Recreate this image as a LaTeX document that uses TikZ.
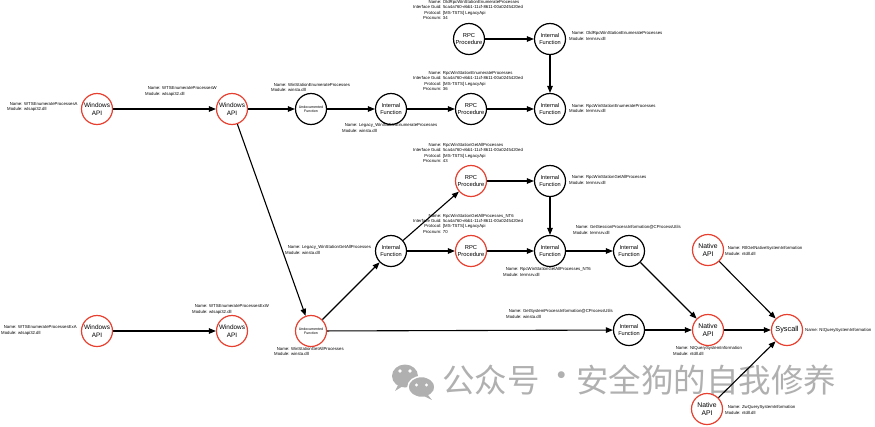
\documentclass[tikz,border=0pt]{standalone}
\usepackage{fontspec}
\setmainfont{Liberation Sans}
\newfontfamily\cjk{Noto Sans CJK SC}
\usetikzlibrary{arrows.meta}
\definecolor{apired}{RGB}{232,64,48}
\definecolor{wmgray}{RGB}{176,176,176}
\newcommand{\twolab}[2]{\begin{tabular}{@{}r@{ }l@{}}Name:&#1\\Module:&#2\end{tabular}}
\newcommand{\rpclab}[2]{\begin{tabular}{@{}r@{ }l@{}}Name:&#1\\Interface Guid:&5ca4a760-ebb1-11cf-8611-00a0245420ed\\Protocol:&[MS-TSTS] LegacyApi\\Procnum:&#2\end{tabular}}
\begin{document}
\begin{tikzpicture}[x=1pt,y=-1pt,
  fn/.style={circle,draw,line width=1.2pt,minimum size=31pt,inner sep=0pt,align=center},
  redfn/.style={fn,draw=apired},
  winapi/.style={redfn,font=\fontsize{6.4}{7.4}\selectfont},
  intfn/.style={fn,font=\fontsize{5.6}{6.6}\selectfont},
  rpcblack/.style={fn,font=\fontsize{5.8}{6.8}\selectfont},
  rpcred/.style={redfn,font=\fontsize{5.8}{6.8}\selectfont},
  undoc/.style={fn,font=\fontsize{3.6}{4.4}\selectfont},
  undocred/.style={redfn,font=\fontsize{3.6}{4.4}\selectfont},
  native/.style={redfn,font=\fontsize{6.8}{7.8}\selectfont},
  sysc/.style={redfn,font=\fontsize{7.3}{8.3}\selectfont},
  lbl/.style={anchor=west,inner sep=0pt,font=\fontsize{4.3}{5.3}\selectfont},
  edge/.style={line width=1.1pt,-{Triangle[length=7pt,width=5.5pt]}},
  wm/.style={inner sep=0pt,text=wmgray,font=\cjk\fontsize{32.5}{33}\selectfont},
]
\useasboundingbox (0,0) rectangle (875,426);

% watermark
\fill[wmgray] (405,376) ellipse [x radius=13, y radius=11.5];
\fill[wmgray] (398,385) -- (395,391) -- (403,386) -- cycle;
\filldraw[fill=wmgray,draw=white,line width=1.5pt] (421.5,387) ellipse [x radius=13.5, y radius=10.5];
\fill[wmgray] (428,395) -- (432,400) -- (424,396) -- cycle;
\fill[white] (400,371) circle (1.9) (410,371) circle (1.9);
\fill[white] (416.5,385) circle (1.6) (426.5,385) circle (1.6);
\node[wm,anchor=west] (wm1) at (442,380) {公众号};
\node[wm] (wmdot) at (562,380) {·};
\node[wm,anchor=west] (wm2) at (576,380) {安全狗的自我修养};

% nodes
\node[winapi] (wA) at (97,109) {Windows\\API};
\node[winapi] (wW) at (232,109) {Windows\\API};
\node[undoc] (uT) at (311,109) {Undocumented\\Function};
\node[intfn] (iLE) at (391,109) {Internal\\Function};
\node[rpcblack] (r36) at (471,109) {RPC\\Procedure};
\node[intfn] (iRE) at (550,109) {Internal\\Function};
\node[rpcblack] (r34) at (469,39) {RPC\\Procedure};
\node[intfn] (iOld) at (550,39) {Internal\\Function};

\node[rpcred] (r43) at (471,181) {RPC\\Procedure};
\node[intfn] (iRG) at (550,181) {Internal\\Function};
\node[intfn] (iLG) at (391,251) {Internal\\Function};
\node[rpcred] (r70) at (471,251) {RPC\\Procedure};
\node[intfn] (iNT6) at (550,251) {Internal\\Function};
\node[intfn] (iGS) at (629,251) {Internal\\Function};
\node[native] (nRtl) at (708,250) {Native\\API};

\node[winapi] (wExA) at (97,331) {Windows\\API};
\node[winapi] (wExW) at (232,331) {Windows\\API};
\node[undocred] (uB) at (311,331) {Undocumented\\Function};
\node[intfn] (iGSys) at (629,330) {Internal\\Function};
\node[native] (nNt) at (708,330) {Native\\API};
\node[sysc] (sys) at (787,330) {Syscall};
\node[native] (nZw) at (707,409) {Native\\API};

% labels
\node[lbl] (lA) at (7,107) {\twolab{WTSEnumerateProcessesA}{wtsapi32.dll}};
\node[lbl] (lW) at (145,91.5) {\twolab{WTSEnumerateProcessesW}{wtsapi32.dll}};
\node[lbl] (lUT) at (271,88) {\twolab{WinStationEnumerateProcesses}{winsta.dll}};
\node[lbl] (lLE) at (342,128.5) {\twolab{Legacy\_WinStationEnumerateProcesses}{winsta.dll}};
\node[lbl] (lR34) at (413,10.5) {\rpclab{OldRpcWinStationEnumerateProcesses}{34}};
\node[lbl] (lOld) at (569,36.5) {\twolab{OldRpcWinStationEnumerateProcesses}{termsrv.dll}};
\node[lbl] (lR36) at (413,81.5) {\rpclab{RpcWinStationEnumerateProcesses}{36}};
\node[lbl] (lRE) at (569,109) {\twolab{RpcWinStationEnumerateProcesses}{termsrv.dll}};
\node[lbl] (lR43) at (413,153.5) {\rpclab{RpcWinStationGetAllProcesses}{43}};
\node[lbl] (lRG) at (569,180.5) {\twolab{RpcWinStationGetAllProcesses}{termsrv.dll}};
\node[lbl] (lLG) at (285,250.5) {\twolab{Legacy\_WinStationGetAllProcesses}{winsta.dll}};
\node[lbl] (lR70) at (413,224) {\rpclab{RpcWinStationGetAllProcesses\_NT6}{70}};
\node[lbl] (lNT6) at (503,272.5) {\twolab{RpcWinStationGetAllProcesses\_NT6}{termsrv.dll}};
\node[lbl] (lGS) at (573,230.5) {\twolab{GetSessionProcessInformation@CProcessUtils}{termsrv.dll}};
\node[lbl] (lRtl) at (725,251.5) {\twolab{RtlGetNativeSystemInformation}{ntdll.dll}};
\node[lbl] (lSys) at (805,330) {Name: NtQuerySystemInformation};
\node[lbl] (lNtQ) at (673,351.5) {\twolab{NtQuerySystemInformation}{ntdll.dll}};
\node[lbl] (lZw) at (725,410.5) {\twolab{ZwQuerySystemInformation}{ntdll.dll}};
\node[lbl] (lGSys) at (506,314.5) {\twolab{GetSystemProcessInformation@CProcessUtils}{winsta.dll}};
\node[lbl] (lUB) at (274,352) {\twolab{WinStationGetAllProcesses}{winsta.dll}};
\node[lbl] (lExA) at (1,330.5) {\twolab{WTSEnumerateProcessesExA}{wtsapi32.dll}};
\node[lbl] (lExW) at (192,309.5) {\twolab{WTSEnumerateProcessesExW}{wtsapi32.dll}};

% edges
\draw[edge] (wA) -- (wW);
\draw[edge] (wW) -- (uT);
\draw[edge] (uT) -- (iLE);
\draw[edge] (iLE) -- (r36);
\draw[edge] (r36) -- (iRE);
\draw[edge] (r34) -- (iOld);
\draw[edge] (iOld) -- (iRE);
\draw[edge] (wW) -- (uB);
\draw[edge] (wExA) -- (wExW);
\draw[edge] (uB) -- (iLG);
\draw[edge] (iLG) -- (r43);
\draw[edge] (iLG) -- (r70);
\draw[edge] (r43) -- (iRG);
\draw[edge] (iRG) -- (iNT6);
\draw[edge] (r70) -- (iNT6);
\draw[edge] (iNT6) -- (iGS);
\draw[edge] (iGS) -- (nNt);
\draw[edge] (uB) -- (iGSys);
\draw[edge] (iGSys) -- (nNt);
\draw[edge] (nNt) -- (sys);
\draw[edge] (nRtl) -- (sys);
\draw[edge] (nZw) -- (sys);
\end{tikzpicture}
\end{document}
